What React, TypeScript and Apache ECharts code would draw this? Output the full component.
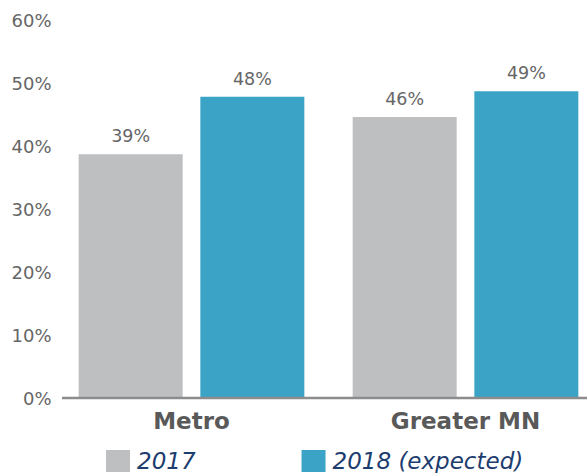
import React, { useEffect, useRef } from "react";
import * as echarts from "echarts";

const categories = ["Metro", "Greater MN"];
const seriesNames = ["2017", "2018 (expected)"];
const values2017 = [38.7, 44.6];
const values2018 = [47.8, 48.7];
const labels2017 = ["39%", "46%"];
const labels2018 = ["48%", "49%"];
const yTicks = [0, 10, 20, 30, 40, 50, 60];

const FONT = "DejaVu Sans";

export default function App() {
  const ref = useRef<HTMLDivElement>(null);
  useEffect(() => {
    document.body.style.margin = "0";
    if (!ref.current) return;
    const chart = echarts.init(ref.current, null, { renderer: "svg" });
    const mkLabel = (labels: string[]) => ({
      show: true,
      position: "top",
      distance: 9,
      color: "#666666",
      fontFamily: FONT,
      fontSize: 17.5,
      formatter: (p: any) => labels[p.dataIndex],
    });
    chart.setOption({
      animation: false,
      grid: { left: 54.5, top: 20, width: 548, height: 378, containLabel: false },
      legend: {
        data: seriesNames,
        left: 106,
        top: 449,
        padding: 0,
        itemWidth: 24,
        itemHeight: 22,
        itemGap: 106,
        icon: "rect",
        textStyle: {
          color: "#1c3d6e",
          fontFamily: FONT,
          fontStyle: "italic",
          fontSize: 23,
          lineHeight: 24,
          padding: [0, 0, 0, 2],
        },
      },
      xAxis: {
        type: "category",
        data: categories,
        axisLine: { show: false },
        axisTick: { show: false },
        axisLabel: {
          color: "#595959",
          fontFamily: FONT,
          fontWeight: "bold",
          fontSize: 23,
          margin: 11,
        },
      },
      yAxis: {
        type: "value",
        min: yTicks[0],
        max: yTicks[yTicks.length - 1],
        interval: 10,
        splitLine: { show: false },
        axisLine: { show: false },
        axisTick: { show: false },
        axisLabel: {
          color: "#666666",
          fontFamily: FONT,
          fontSize: 18,
          margin: 3,
          formatter: (v: number) => v + "%",
        },
      },
      graphic: [
        {
          type: "line",
          shape: { x1: 62, y1: 398, x2: 603, y2: 398 },
          style: { stroke: "#8c8c8c", lineWidth: 2.5 },
          z: 10,
        },
      ],
      series: [
        {
          name: seriesNames[0],
          type: "bar",
          data: values2017,
          barWidth: 104,
          barGap: "17%",
          itemStyle: { color: "#bebfc1" },
          label: mkLabel(labels2017),
        },
        {
          name: seriesNames[1],
          type: "bar",
          data: values2018,
          barWidth: 104,
          barGap: "17%",
          itemStyle: { color: "#3ba4c6" },
          label: mkLabel(labels2018),
        },
      ],
    });
    return () => chart.dispose();
  }, []);
  return (
    <div style={{ width: 587, height: 473, overflow: "hidden" }}>
      <div ref={ref} style={{ width: 603, height: 473 }} />
    </div>
  );
}
